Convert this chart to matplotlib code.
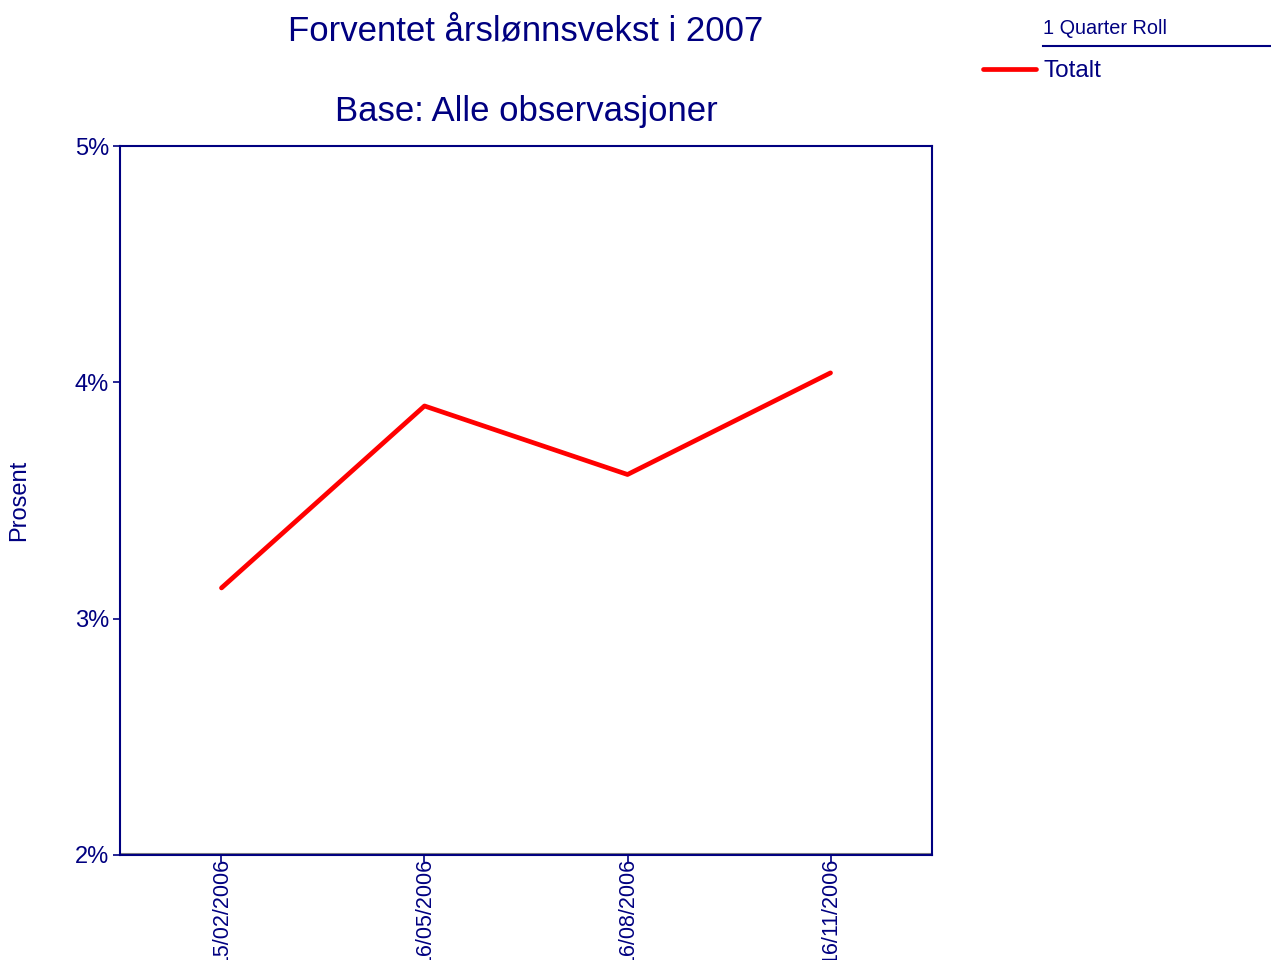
import matplotlib.pyplot as plt
from matplotlib.lines import Line2D

plt.rcParams['font.family'] = ['Liberation Sans', 'DejaVu Sans']

dates = ['15/02/2006', '16/05/2006', '16/08/2006', '16/11/2006']
totalt = [3.13, 3.90, 3.61, 4.04]
yticks = [2, 3, 4, 5]

navy = '#000080'
red = '#FF0000'

fig = plt.figure(figsize=(12.71, 9.6), dpi=100)
ax = fig.add_axes([0.0944, 0.1094, 0.6389, 0.7385])

x = range(len(dates))
ax.plot(x, totalt, color=red, lw=3.4, solid_capstyle='round',
        solid_joinstyle='round', label='Totalt')

ax.set_xlim(-0.5, len(dates) - 0.5)
ax.set_ylim(2, 5)
ax.set_xticks(list(x))
ax.set_xticklabels(dates, rotation=90, va='top', ha='center')
ax.set_yticks(yticks)
ax.set_yticklabels([f'{v}%' for v in yticks])
ax.axhline(2.006, color='#808080', lw=1.5, zorder=1)

for s in ax.spines.values():
    s.set_color(navy)
    s.set_linewidth(1.5)
ax.tick_params(axis='y', colors=navy, labelcolor=navy, labelsize=17,
               direction='out', length=5, width=1.2, pad=3)
ax.tick_params(axis='x', colors=navy, labelcolor=navy, labelsize=15.5,
               direction='out', length=5, width=1.2, pad=-3)
ax.set_ylabel('Prosent', color=navy, fontsize=17)
ax.yaxis.set_label_coords(-0.111, 0.5)

fig.text(0.4139, 0.968, 'Forventet årslønnsvekst i 2007', color=navy,
         fontsize=25, ha='center', va='center')
fig.text(0.4139, 0.884, 'Base: Alle observasjoner', color=navy,
         fontsize=25, ha='center', va='center')

# legend block
fig.text(1043 / 1271, 1 - 29 / 960, '1 Quarter Roll', color=navy,
         fontsize=14.3, ha='left', va='center')
fig.add_artist(Line2D([1043 / 1271, 1.0], [1 - 46 / 960, 1 - 46 / 960],
                      color=navy, lw=1.5, transform=fig.transFigure))
leg = fig.legend(loc='center left', bbox_to_anchor=(983 / 1271, 1 - 71 / 960),
                 frameon=False, fontsize=17.5, handlelength=2.2,
                 handletextpad=0.3, borderpad=0, borderaxespad=0)
for t in leg.get_texts():
    t.set_color(navy)

fig.savefig('out.png', dpi=100)
